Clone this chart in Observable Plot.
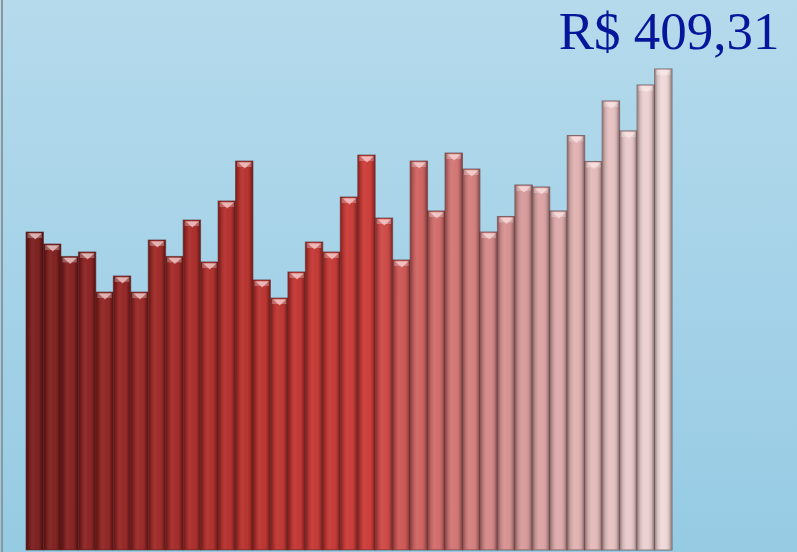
<!DOCTYPE html>
<html>
<head>
<meta charset="utf-8">
<script src="https://cdn.jsdelivr.net/npm/d3@7"></script>
<script src="https://cdn.jsdelivr.net/npm/@observablehq/plot@0.6"></script>
<style>
  html, body { margin: 0; padding: 0; }
  #wrap { position: relative; width: 797px; height: 552px; overflow: hidden;
          background: linear-gradient(#b5daec, #96cbe4); }
  #axisline { position: absolute; left: 1px; top: 0; width: 2px; height: 552px; background: #8c979d; }
  #wrap svg { display: block; background: transparent; }
</style>
</head>
<body>
<div id="wrap"><div id="axisline"></div></div>
<script>
// data
const periods = d3.range(1, 38).map(String);
const values = [
  270.6, 260.4, 249.8, 253.6, 219.5, 233.2, 219.5, 263.8, 249.8, 280.8,
  245.1, 297.0, 331.0, 229.8, 214.4, 236.6, 262.1, 253.6, 300.4, 336.1,
  282.5, 246.8, 331.0, 288.5, 337.8, 324.2, 270.6, 283.8, 310.6, 308.9,
  288.5, 352.7, 330.6, 382.1, 356.6, 395.7, 409.31
];
const totalLabel = "R$ 409,31";
const colorStops = [0, 12, 19, 22, 28, 36];
const colorRange = ["#7a1c1c", "#b8302c", "#cc3a36", "#cf6260", "#d89a9a", "#f0d8d8"];

const data = periods.map((p, i) => ({period: p, value: values[i], idx: i}));

const downTri = {
  draw(ctx, size) {
    const w = 6.5, h = 6;
    ctx.moveTo(-w, -h / 2);
    ctx.lineTo(w, -h / 2);
    ctx.lineTo(0, h / 2);
    ctx.closePath();
  }
};

const chart = Plot.plot({
  width: 797,
  height: 552,
  marginLeft: 26,
  marginRight: 125,
  marginTop: 0,
  marginBottom: 2,
  style: {background: "transparent"},
  x: {domain: periods, padding: 0, round: false, axis: null},
  y: {domain: [0, 468], axis: null},
  color: {type: "linear", domain: colorStops, range: colorRange, interpolate: "rgb"},
  marks: [
    Plot.barY(data, {x: "period", y: "value", fill: "idx", stroke: "#4a1e1e", strokeOpacity: 0.55, strokeWidth: 1}),
    Plot.barY(data, {x: "period", y: "value", fill: "url(#cyl)", inset: 0.5}),
    Plot.tickY(data, {x: "period", y: "value", stroke: "white", strokeOpacity: 0.28, strokeWidth: 5, dy: 3, inset: 1.5}),
    Plot.dot(data, {x: "period", y: "value", symbol: downTri, fill: "#ffe6e6", fillOpacity: 0.6, stroke: "none", dy: 4}),
    Plot.text([totalLabel], {text: d => d, frameAnchor: "top-right", dx: 107, dy: 11,
      fontSize: 53, fontFamily: "Liberation Serif, Times New Roman, serif", fill: "#06169a"})
  ]
});

const svg = d3.select(chart);
const defs = svg.insert("defs", ":first-child");
const g = defs.append("linearGradient").attr("id", "cyl").attr("x1", 0).attr("x2", 1).attr("y1", 0).attr("y2", 0);
[[0, "#000", 0.35], [0.15, "#000", 0.12], [0.4, "#fff", 0.06], [0.6, "#fff", 0.02], [0.85, "#000", 0.12], [1, "#000", 0.4]]
  .forEach(([o, c, a]) => g.append("stop").attr("offset", o).attr("stop-color", c).attr("stop-opacity", a));

document.getElementById("wrap").appendChild(chart);
</script>
</body>
</html>
